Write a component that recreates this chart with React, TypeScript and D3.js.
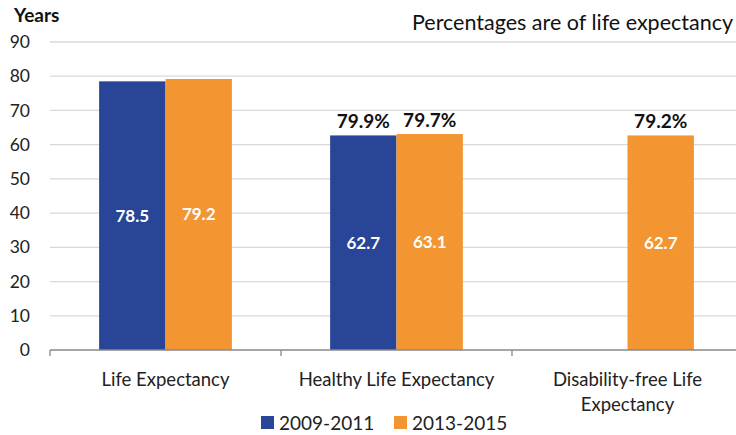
import { useEffect, useRef } from "react";
import * as d3 from "d3";

const categories = ["Life Expectancy", "Healthy Life Expectancy", "Disability-free Life Expectancy"];
const categoryLines = [["Life Expectancy"], ["Healthy Life Expectancy"], ["Disability-free Life", "Expectancy"]];
const seriesNames = ["2009-2011", "2013-2015"];
const values2009 = [78.5, 62.7, null];
const values2013 = [79.2, 63.1, 62.7];
const pct2009 = [null, "79.9%", null];
const pct2013 = [null, "79.7%", "79.2%"];
const yTicks = [0, 10, 20, 30, 40, 50, 60, 70, 80, 90];

const colors = ["#284597", "#F39531"];
const font = "Lato, 'Noto Sans', sans-serif";

export default function App() {
  const svgRef = useRef<SVGSVGElement | null>(null);

  useEffect(() => {
    if (!svgRef.current) return;
    const width = 736;
    const height = 435;
    const svg = d3.select(svgRef.current);
    svg.selectAll("*").remove();

    const x = d3.scaleBand<string>().domain(categories).range([50, 743]);
    const x1 = d3
      .scaleBand<string>()
      .domain(seriesNames)
      .range([0, x.bandwidth()])
      .paddingInner(0)
      .paddingOuter(0.74);
    const y = d3.scaleLinear().domain([0, 90]).range([350, 42]);

    // gridlines
    svg
      .append("g")
      .selectAll("line")
      .data(yTicks.filter(t => t > 0))
      .enter()
      .append("line")
      .attr("x1", 50)
      .attr("x2", width)
      .attr("y1", d => y(d))
      .attr("y2", d => y(d))
      .attr("stroke", "#d9d9d9")
      .attr("stroke-width", 1.3);

    // y tick labels
    svg
      .append("g")
      .selectAll("text")
      .data(yTicks)
      .enter()
      .append("text")
      .attr("x", 30)
      .attr("y", d => y(d))
      .attr("dy", "0.35em")
      .attr("text-anchor", "end")
      .attr("font-family", font)
      .attr("font-size", 17.5)
      .attr("fill", "#222")
      .text(d => d);

    const series = [
      { name: seriesNames[0], values: values2009, pct: pct2009, color: colors[0] },
      { name: seriesNames[1], values: values2013, pct: pct2013, color: colors[1] },
    ];

    series.forEach(s => {
      const g = svg.append("g");
      categories.forEach((c, i) => {
        const v = s.values[i];
        if (v == null) return;
        const bx = (x(c) ?? 0) + (x1(s.name) ?? 0);
        const bw = x1.bandwidth();
        g.append("rect")
          .attr("x", bx)
          .attr("y", y(v))
          .attr("width", bw)
          .attr("height", y(0) - y(v))
          .attr("fill", s.color);
        g.append("text")
          .attr("x", bx + bw / 2)
          .attr("y", (y(v) + y(0)) / 2)
          .attr("dy", "0.35em")
          .attr("text-anchor", "middle")
          .attr("font-family", font)
          .attr("font-weight", "bold")
          .attr("font-size", 17)
          .attr("fill", "#fff")
          .text(v.toFixed(1));
        const p = s.pct[i];
        if (p) {
          g.append("text")
            .attr("x", bx + bw / 2)
            .attr("y", y(v) - 7)
            .attr("text-anchor", "middle")
            .attr("font-family", font)
            .attr("font-weight", "bold")
            .attr("font-size", 19)
            .attr("fill", "#111")
            .text(p);
        }
      });
    });

    // baseline and category ticks
    svg
      .append("line")
      .attr("x1", 50)
      .attr("x2", width)
      .attr("y1", y(0))
      .attr("y2", y(0))
      .attr("stroke", "#888")
      .attr("stroke-width", 1.3);
    svg
      .append("g")
      .selectAll("line")
      .data(categories)
      .enter()
      .append("line")
      .attr("x1", d => x(d) ?? 0)
      .attr("x2", d => x(d) ?? 0)
      .attr("y1", y(0))
      .attr("y2", y(0) + 6)
      .attr("stroke", "#888")
      .attr("stroke-width", 1.3);

    // category labels
    categories.forEach((c, i) => {
      const t = svg
        .append("text")
        .attr("x", (x(c) ?? 0) + x.bandwidth() / 2)
        .attr("y", 386)
        .attr("text-anchor", "middle")
        .attr("font-family", font)
        .attr("font-size", 18.5)
        .attr("fill", "#222");
      categoryLines[i].forEach((line, j) => {
        t.append("tspan")
          .attr("x", (x(c) ?? 0) + x.bandwidth() / 2)
          .attr("dy", j === 0 ? 0 : 25)
          .text(line);
      });
    });

    // axis title and note
    svg
      .append("text")
      .attr("x", 14)
      .attr("y", 22)
      .attr("font-family", font)
      .attr("font-weight", "bold")
      .attr("font-size", 19)
      .attr("fill", "#111")
      .text("Years");
    svg
      .append("text")
      .attr("x", 733)
      .attr("y", 30)
      .attr("text-anchor", "end")
      .attr("font-family", font)
      .attr("font-size", 21.5)
      .attr("fill", "#111")
      .text("Percentages are of life expectancy");

    // legend
    const legendX = [261, 394];
    series.forEach((s, i) => {
      svg
        .append("rect")
        .attr("x", legendX[i])
        .attr("y", 416)
        .attr("width", 13)
        .attr("height", 13)
        .attr("fill", s.color);
      svg
        .append("text")
        .attr("x", legendX[i] + 18)
        .attr("y", 423)
        .attr("dy", "0.35em")
        .attr("font-family", font)
        .attr("font-size", 19)
        .attr("fill", "#222")
        .text(s.name);
    });

    svg.attr("width", width).attr("height", height);
  }, []);

  return (
    <svg
      ref={svgRef}
      width={736}
      height={435}
      style={{ position: "absolute", left: 0, top: 0, background: "#fff" }}
    />
  );
}
